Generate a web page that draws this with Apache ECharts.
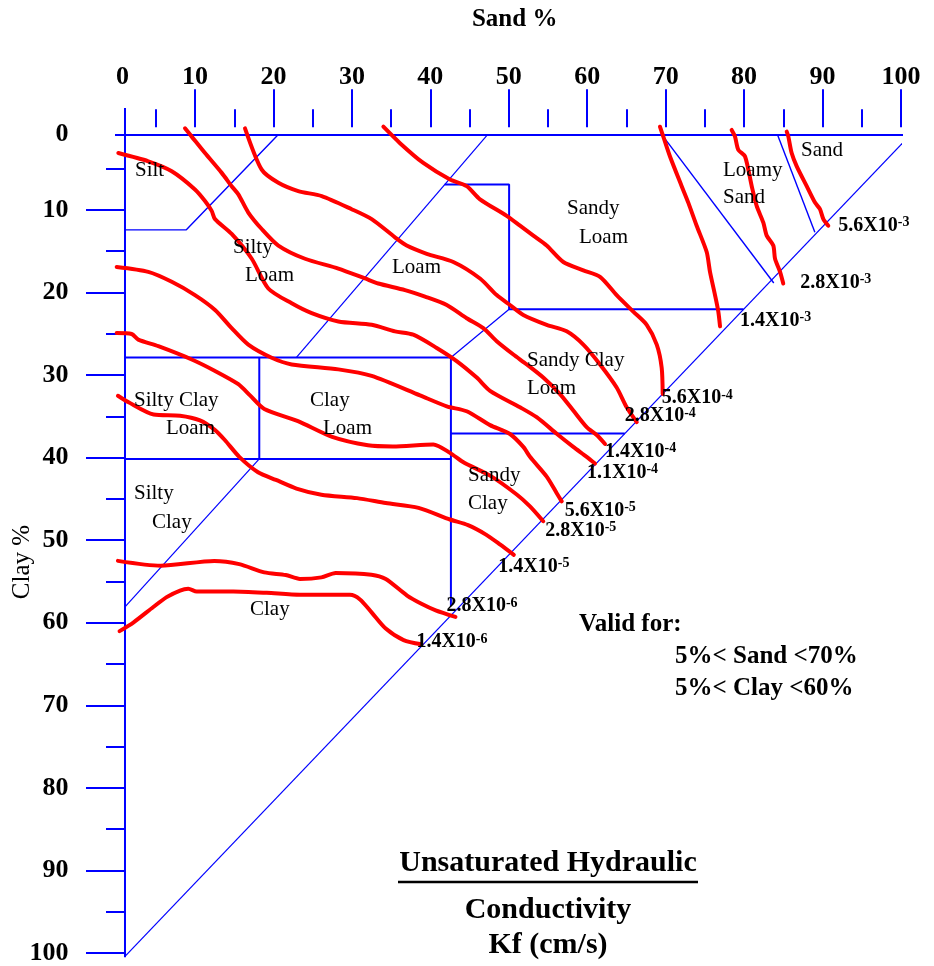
<!DOCTYPE html>
<html>
<head>
<meta charset="utf-8">
<script src="https://cdn.jsdelivr.net/npm/echarts@6/dist/echarts.min.js"></script>
<style>
  html, body { margin: 0; padding: 0; background: #ffffff; }
  #chart { width: 934px; height: 966px; }
</style>
</head>
<body>
<div id="chart"></div>
<script>
// Texture triangle (sand % across the top, clay % down the side) with
// contours of unsaturated hydraulic conductivity Kf (cm/s).

const SERIF = '"Times New Roman", "Liberation Serif", serif';
const BLUE = '#0000ff';
const RED = '#ff0000';

// ---- axis ticks --------------------------------------------------------
const sandLabels = [0, 10, 20, 30, 40, 50, 60, 70, 80, 90, 100];
const sandMajorTicks = [10, 20, 30, 40, 50, 60, 70, 80, 90, 100];
const sandMinorTicks = [5, 15, 25, 35, 45, 55, 65, 75, 85, 95];
const clayLabels = [0, 10, 20, 30, 40, 50, 60, 70, 80, 90, 100];
const clayMajorTicks = [10, 20, 30, 40, 50, 60, 70, 80, 90, 100];
const clayMinorTicks = [5, 15, 25, 35, 45, 55, 65, 75, 85, 95];

// ---- triangle frame and texture-class boundaries, [sand %, clay %] ------
const topEdge = [[-1.35, 0.92], [101.19, 0.92]];
const leftEdge = [[1.07, -2.35], [1.07, 100.5]];
const hypotenuse = [[101.19, 0.92], [1.07, 100.4]];
const siltBoundary = [[1.07, 12.42], [8.89, 12.42], [20.56, 0.92]];
const siltLoamBoundary = [[47.27, 0.92], [22.93, 27.87]];
const clay27Line = [[1.07, 27.87], [42.62, 27.87]];
const loamClayLoamStep = [[42.62, 27.87], [50.04, 22.03]];
const loamBox = [[41.83, 6.92], [50.04, 6.92], [50.04, 22.03], [79.92, 22.03]];
const siltyClayLoamSplit = [[18.19, 27.87], [18.19, 40.16]];
const clay40Line = [[1.07, 40.16], [42.62, 40.16]];
const siltyClayBoundary = [[18.19, 40.16], [1.07, 58.09]];
const sandyClaySplit = [[42.62, 27.87], [42.62, 57.99]];
const sandyClayLoamBase = [[42.62, 37.09], [64.78, 37.09]];
const loamySandBoundary = [[69.53, 0.92], [83.78, 18.86]];
const sandBoundary = [[84.27, 0.92], [89.02, 12.71]];

// ---- Kf contours, [sand %, clay %] --------------------------------------
const kf56e3 = [[85.43, 0.53], [85.64, 1.13], [86.06, 3.12], [86.71, 4.73], [87.98, 7.13],
  [89.04, 9.12], [89.67, 9.92], [90.10, 11.12], [90.73, 11.92]];
const kf28e3 = [[78.41, 0.32], [78.84, 1.13], [79.26, 2.73], [80.12, 3.53], [80.97, 7.13],
  [81.60, 9.52], [82.44, 11.52], [82.88, 13.12], [83.72, 14.32], [83.94, 15.92],
  [84.58, 17.51], [84.99, 18.92]];
const kf14e3 = [[69.27, -0.07], [69.70, 1.13], [70.55, 3.53], [72.04, 7.13], [72.88, 9.12],
  [73.95, 11.92], [75.23, 15.11], [75.65, 17.51], [76.29, 20.32], [76.71, 22.32], [76.93, 24.11]];
const kf56e4 = [[34.01, -0.07], [36.13, 1.92], [39.10, 4.32], [42.50, 6.32], [44.63, 7.13],
  [46.33, 8.72], [49.73, 10.72], [51.43, 11.92], [53.13, 13.12], [54.83, 14.32], [56.95, 16.31],
  [59.50, 17.32], [61.63, 18.11], [63.75, 20.32], [65.87, 22.32], [67.58, 23.92],
  [68.86, 26.32], [69.49, 29.11], [69.62, 32.31]];
const kf28e4 = [[16.37, 0.12], [18.50, 5.13], [20.62, 6.72], [23.16, 7.72], [26.15, 8.33],
  [29.97, 9.92], [32.52, 11.12], [35.49, 13.32], [36.98, 14.32], [39.54, 15.32], [42.93, 16.31],
  [46.33, 18.31], [48.46, 20.32], [50.15, 21.52], [51.85, 22.72], [54.83, 23.92], [57.38, 24.71],
  [59.50, 26.32], [61.63, 28.72], [63.75, 31.51], [65.03, 33.91], [66.31, 35.71]];
const kf14e4 = [[8.72, 0.12], [9.58, 1.13], [11.27, 3.12], [13.40, 5.52], [14.67, 7.13],
  [15.52, 8.12], [16.79, 10.32], [18.50, 12.32], [20.62, 14.32], [24.02, 15.92], [28.27, 17.11],
  [31.67, 18.31], [33.36, 18.92], [36.77, 19.72], [39.32, 20.51], [42.09, 21.52], [44.63, 23.12],
  [46.75, 24.32], [48.46, 25.91], [50.58, 27.52], [52.29, 28.72], [54.39, 30.31], [56.53, 32.31],
  [58.22, 34.30], [59.93, 36.31], [61.21, 37.27], [62.27, 38.35]];
const kf11e4 = [[0.22, 3.12], [4.04, 4.12], [7.03, 5.32], [9.99, 7.52], [11.27, 8.92],
  [12.12, 10.12], [12.55, 11.12], [14.67, 12.92], [17.23, 15.92], [19.34, 19.52], [22.32, 21.32],
  [24.87, 22.51], [28.27, 23.51], [32.52, 23.92], [35.49, 24.71], [37.82, 25.12], [40.81, 26.72],
  [43.35, 28.31], [45.91, 30.31], [47.61, 31.91], [51.43, 33.91], [53.55, 35.11], [56.11, 37.12],
  [58.22, 38.71], [59.93, 39.91], [60.99, 40.72]];
const kf56e5 = [[0.01, 16.92], [4.04, 17.51], [7.03, 18.71], [9.99, 20.32], [12.55, 22.12],
  [14.67, 24.32], [16.79, 26.32], [19.77, 27.91], [22.32, 28.72], [28.27, 29.32], [32.52, 30.11],
  [38.68, 32.47], [42.09, 33.79], [44.63, 34.39], [47.61, 36.07], [50.15, 37.15], [51.85, 38.71],
  [52.70, 39.91], [54.83, 42.31], [56.11, 44.31], [56.75, 45.30]];
const kf28e5 = [[0.01, 24.91], [1.92, 25.03], [2.76, 25.71], [5.32, 26.51], [9.58, 28.12],
  [12.55, 29.51], [15.52, 31.11], [17.01, 32.47], [18.83, 34.12], [23.12, 35.59], [27.48, 37.50],
  [32.04, 38.51], [35.22, 38.65], [40.38, 38.41], [42.50, 39.43], [44.32, 40.63], [47.61, 42.19],
  [51.01, 44.47], [52.70, 45.91], [54.39, 47.71]];
const kf14e5 = [[0.17, 32.51], [1.53, 33.31], [4.72, 34.79], [8.09, 34.93], [10.63, 35.50],
  [12.55, 36.67], [13.82, 37.90], [15.64, 39.91], [18.03, 41.77], [20.32, 42.71], [22.93, 43.75],
  [26.11, 44.50], [30.66, 44.91], [34.31, 45.51], [38.49, 46.09], [42.50, 47.50], [44.80, 48.19],
  [47.09, 49.33], [48.87, 50.52], [50.64, 51.78]];
const kf28e6 = [[0.17, 52.51], [5.62, 53.10], [12.46, 52.51], [15.64, 52.90], [18.83, 53.90],
  [21.56, 54.22], [23.38, 54.70], [26.11, 54.51], [27.93, 53.98], [32.48, 54.18], [34.31, 54.70],
  [37.03, 56.71], [38.86, 57.70], [40.68, 58.50], [43.20, 59.30]];
const kf14e6 = [[0.38, 61.02], [2.13, 59.98], [4.68, 58.10], [6.38, 56.90], [8.09, 56.10],
  [9.14, 55.89], [10.21, 56.22], [14.88, 56.22], [19.14, 56.38], [23.38, 56.62], [29.75, 56.62],
  [31.03, 57.18], [32.48, 58.71], [34.31, 60.70], [36.59, 62.10], [38.86, 62.61]];

// contour values: mantissa and power of ten
const contourMantissas = ['5.6', '2.8', '1.4', '5.6', '2.8', '1.4', '1.1', '5.6', '2.8', '1.4', '2.8', '1.4'];
const contourExponents = [-3, -3, -3, -4, -4, -4, -4, -5, -5, -5, -6, -6];
const contourLines = [kf56e3, kf28e3, kf14e3, kf56e4, kf28e4, kf14e4, kf11e4,
  kf56e5, kf28e5, kf14e5, kf28e6, kf14e6];

// placement of each value label relative to its contour's end (px)
const contourLabelOffsets = [[10, 0], [17, -1], [20, -6], [-1, 4], [-12, -6], [0, 7.5],
  [-8, 9], [3, 9.5], [2, 9.5], [-15.5, 12], [-9, -11], [-5, -2]];

// ---- build -------------------------------------------------------------
const chart = echarts.init(document.getElementById('chart'), null, { renderer: 'canvas' });

const tickLine = { color: BLUE, width: 2 };
const tickFont = { fontFamily: SERIF, fontWeight: 'bold', fontSize: 26, color: '#000' };

function boundary(data, width) {
  return {
    type: 'line', data: data, symbol: 'none', clip: false, silent: true, z: 2,
    lineStyle: { color: BLUE, width: width }, animation: false
  };
}

const series = [
  boundary(topEdge, 2), boundary(leftEdge, 2), boundary(hypotenuse, 1.2),
  boundary(siltBoundary, 1.4), boundary(siltLoamBoundary, 1.2),
  boundary(clay27Line, 2), boundary(loamClayLoamStep, 1.2), boundary(loamBox, 2),
  boundary(siltyClayLoamSplit, 2), boundary(clay40Line, 2), boundary(siltyClayBoundary, 1.2),
  boundary(sandyClaySplit, 2), boundary(sandyClayLoamBase, 2),
  boundary(loamySandBoundary, 1.4), boundary(sandBoundary, 1.4)
];

contourLines.forEach(function (pts) {
  series.push({
    type: 'line', data: pts, symbol: 'none', clip: false, silent: true, z: 3,
    smooth: 0.25, lineStyle: { color: RED, width: 4, cap: 'round', join: 'round' },
    animation: false
  });
});

const labelRich = {
  m: { fontFamily: SERIF, fontWeight: 'bold', fontSize: 20, color: '#000', lineHeight: 20,
       textBorderWidth: 0, opacity: 1 },
  e: { fontFamily: SERIF, fontWeight: 'bold', fontSize: 14, color: '#000', lineHeight: 13,
       verticalAlign: 'top', textBorderWidth: 0, opacity: 1 }
};

// value labels ride on the last point of each contour
series.push({
  type: 'scatter', clip: false, silent: true, z: 4, symbolSize: 0,
  itemStyle: { color: '#000000', opacity: 1 }, animation: false,
  emphasis: { disabled: true },
  data: contourLines.map(function (pts, i) {
    return {
      value: pts[pts.length - 1],
      label: {
        show: true, position: 'right', distance: 0, align: 'left', verticalAlign: 'middle',
        offset: contourLabelOffsets[i],
        color: '#000', textBorderWidth: 0, opacity: 1,
        fontFamily: SERIF, fontWeight: 'bold', fontSize: 20,
        formatter: '{m|' + contourMantissas[i] + 'X10}{e|' + contourExponents[i] + '}',
        rich: labelRich
      }
    };
  })
});

function txt(text, x, y, size, weight, align) {
  return {
    type: 'text', x: x, y: y, silent: true, z: 10,
    style: {
      text: text, fill: '#000', fontFamily: SERIF, fontSize: size,
      fontWeight: weight || 'normal', align: align || 'left', verticalAlign: 'middle'
    }
  };
}

const graphics = [
  txt('Sand %', 514.7, 19.5, 25, 'bold', 'center'),
  Object.assign(txt('Clay %', 22, 562, 25, 'normal', 'center'), { rotation: Math.PI / 2 }),
  // texture classes
  txt('Silt', 135, 170, 21), txt('Silty', 233, 247, 21), txt('Loam', 245, 275, 21),
  txt('Loam', 392, 267, 21), txt('Sandy', 567, 208.5, 21), txt('Loam', 579, 237, 21),
  txt('Loamy', 723, 170, 21), txt('Sand', 723, 197, 21), txt('Sand', 801, 150, 21),
  txt('Sandy Clay', 527, 360, 21), txt('Loam', 527, 388.5, 21),
  txt('Silty Clay', 134, 400, 21), txt('Loam', 166, 428.5, 21),
  txt('Clay', 310, 400, 21), txt('Loam', 323, 428.5, 21),
  txt('Silty', 134, 493.5, 21), txt('Clay', 152, 522, 21),
  txt('Sandy', 468, 475, 21), txt('Clay', 468, 503.5, 21),
  txt('Clay', 250, 609.5, 21),
  // validity note
  txt('Valid for:', 579, 625, 25, 'bold'),
  txt('5%< Sand <70%', 675, 657, 25, 'bold'),
  txt('5%< Clay <60%', 675, 689, 25, 'bold'),
  // title block
  txt('Unsaturated Hydraulic', 548, 863, 30, 'bold', 'center'),
  { type: 'line', silent: true, z: 10, shape: { x1: 398, y1: 882, x2: 698, y2: 882 },
    style: { stroke: '#000', lineWidth: 2.5 } },
  txt('Conductivity', 548, 910, 30, 'bold', 'center'),
  txt('Kf (cm/s)', 548, 945, 30, 'bold', 'center')
];

// the "0" labels sit beside the frame corner rather than on the scale origin
const zeroNudgeX = Object.assign({ padding: [0, 0, 0, 12] }, tickFont);
const zeroNudgeY = Object.assign({ padding: [14, 0, 0, 0] }, tickFont);

chart.setOption({
  animation: false,
  backgroundColor: '#ffffff',
  grid: { left: 116.6, top: 127.3, width: 784.4, height: 833.7, containLabel: false },
  xAxis: [
    {
      type: 'value', position: 'top', min: 0, max: 100, interval: 10, offset: 1.3,
      axisLine: { show: false }, splitLine: { show: false },
      axisTick: { show: true, length: 38, customValues: sandMajorTicks, lineStyle: tickLine },
      axisLabel: Object.assign({
        customValues: sandLabels, margin: 35.5,
        formatter: function (v) { return v === 0 ? '{z|0}' : String(v); },
        rich: { z: zeroNudgeX }
      }, tickFont)
    },
    {
      type: 'value', position: 'top', min: 0, max: 100, interval: 10, offset: 1.3,
      axisLine: { show: false }, splitLine: { show: false }, axisLabel: { show: false },
      axisTick: { show: true, length: 18, customValues: sandMinorTicks, lineStyle: tickLine }
    }
  ],
  yAxis: [
    {
      type: 'value', position: 'left', inverse: true, min: 0, max: 100, interval: 10, offset: -8.4,
      axisLine: { show: false }, splitLine: { show: false },
      axisTick: { show: true, length: 39, customValues: clayMajorTicks, lineStyle: tickLine },
      axisLabel: Object.assign({
        customValues: clayLabels, margin: 56.5,
        formatter: function (v) { return v === 0 ? '{z|0}' : String(v); },
        rich: { z: zeroNudgeY }
      }, tickFont)
    },
    {
      type: 'value', position: 'left', inverse: true, min: 0, max: 100, interval: 10, offset: -8.4,
      axisLine: { show: false }, splitLine: { show: false }, axisLabel: { show: false },
      axisTick: { show: true, length: 19, customValues: clayMinorTicks, lineStyle: tickLine }
    }
  ],
  series: series,
  graphic: graphics
});
</script>
</body>
</html>
